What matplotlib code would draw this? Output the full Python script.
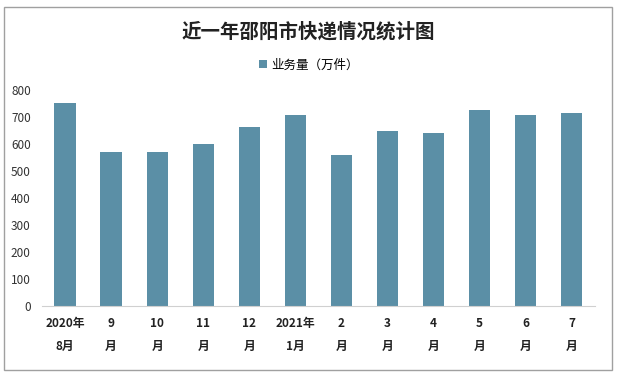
import matplotlib

matplotlib.use("Agg")
import matplotlib.pyplot as plt
from matplotlib.patches import Rectangle

plt.rcParams["font.family"] = ["Noto Sans CJK SC", "DejaVu Sans"]

MONTHS = ["2020年\n8月", "9\n月", "10\n月", "11\n月", "12\n月", "2021年\n1月",
          "2\n月", "3\n月", "4\n月", "5\n月", "6\n月", "7\n月"]
VOLUME = [754, 569, 569, 599, 662, 706, 558, 647, 640, 725, 706, 714]
Y_TICKS = [0, 100, 200, 300, 400, 500, 600, 700, 800]

BAR_COLOR = "#5b8fa6"

fig = plt.figure(figsize=(6.17, 3.77), dpi=100)
ax = fig.add_axes((0.068, 0.188, 0.896, 0.573))

x = range(len(MONTHS))
ax.bar(x, VOLUME, width=0.46, color=BAR_COLOR, label="业务量（万件）")
ax.set_xlim(-0.5, len(MONTHS) - 0.5)
ax.set_ylim(0, 800)
ax.set_yticks(Y_TICKS)
ax.set_yticklabels([str(v) for v in Y_TICKS], fontsize=8.5, color="#333333")
ax.set_xticks(list(x))
ax.set_xticklabels(MONTHS, fontsize=8.5, fontweight="bold", color="#222222", linespacing=2.0)
ax.tick_params(axis="both", length=0)
ax.tick_params(axis="x", pad=8)
ax.tick_params(axis="y", pad=8)
for side in ("left", "right", "top"):
    ax.spines[side].set_visible(False)
ax.spines["bottom"].set_color("#d0d0d0")

fig.text(0.5, 0.915, "近一年邵阳市快递情况统计图", ha="center", va="center",
         fontsize=14, fontweight="bold", color="#222222")
fig.legend(loc="center", bbox_to_anchor=(0.5, 0.828), frameon=False, fontsize=9,
           handlelength=0.7, handleheight=0.7, handletextpad=0.3)

fig.add_artist(Rectangle((4 / 617, 7 / 377), 608 / 617, 363 / 377, transform=fig.transFigure,
                         fill=False, edgecolor="#a0a0a0", linewidth=1.0))

fig.savefig("out.png", dpi=100)
